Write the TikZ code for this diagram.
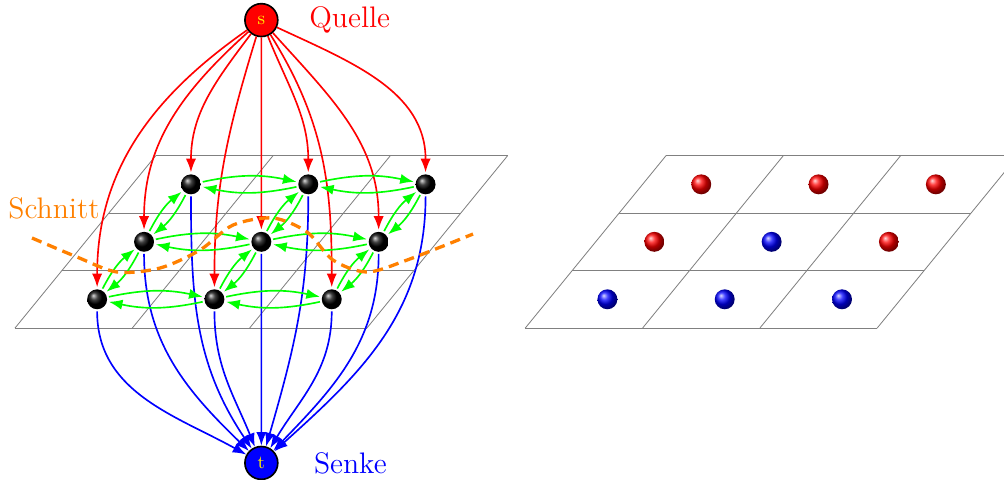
\documentclass[tikz,border=0pt]{standalone}
\usepackage{tikz}
\usetikzlibrary{arrows.meta, positioning, calc, shadings}

\begin{document}
\begin{tikzpicture}[
  pixel/.style={circle, inner sep=0pt, minimum size=0.34cm, outer sep=1pt, shading=ball, ball color=#1},
  pixel/.default=black,
  term/.style={circle, draw=black, thick, fill=#1, text=yellow, minimum size=0.56cm, inner sep=0pt, font=\small},
  srcarrow/.style={red, thick, -{Latex}},
  sinkarrow/.style={blue, thick, -{Latex}},
  nbarrow/.style={green, thick, -{Latex}, bend left=12},
  plane/.style={gray, thin},
  schnitt/.style={orange, line width=1.6pt, dash pattern=on 5pt off 3pt}
]
  \useasboundingbox (-0.256,-2.575) rectangle (16.862,5.593);

  % left plane with the graph
  \begin{scope}[x={(2cm,0cm)}, y={(0.8cm,0.98cm)}]
    \foreach \k in {0,...,3} {
      \draw[plane] (0,\k) -- (3,\k);
      \draw[plane] (\k,0) -- (\k,3);
    }
    \foreach \i in {0,1,2}
      \foreach \j in {0,1,2}
        \node[pixel] (p\i\j) at (\i+0.5,\j+0.5) {};
  \end{scope}

  \node[term=red] (s) at (4.2,5.25) {s};
  \node[term=blue] (t) at (4.2,-2.30) {t};
  \node[red, font=\Large, right=0.4cm of s] (quelle) {Quelle};
  \node[blue, font=\Large, right=0.48cm of t] (senke) {Senke};

  % source and sink edges
  \foreach \n/\a in {00/215, 01/222, 02/233, 10/253, 11/270, 12/292, 20/302, 21/312, 22/335}
    \draw[srcarrow] (s) to[out=\a, in=90] (p\n);
  \foreach \n/\a in {00/151, 01/136, 02/124, 10/112, 11/90, 12/74, 20/59, 21/46, 22/42}
    \draw[sinkarrow] (p\n) to[out=-90, in=\a] (t);

  % neighbour edges
  \foreach \i/\k in {0/1, 1/2}
    \foreach \j in {0,1,2} {
      \draw[nbarrow] (p\i\j) to (p\k\j);
      \draw[nbarrow] (p\k\j) to (p\i\j);
      \draw[nbarrow] (p\j\i) to (p\j\k);
      \draw[nbarrow] (p\j\k) to (p\j\i);
    }

  % the cut
  \draw[schnitt] plot[smooth] coordinates {(0.290,1.535) (1.057,1.211) (1.739,0.955) (2.472,1.023)
    (3.154,1.330) (3.717,1.756) (4.399,1.876) (4.979,1.637) (5.422,1.159) (6.002,0.955)
    (6.684,1.159) (7.809,1.603)};
  \node[orange, font=\Large] (schnitt) at (0.665,2.04) {Schnitt};

  % right plane with the labels
  \begin{scope}[xshift=8.7cm, x={(2cm,0cm)}, y={(0.8cm,0.98cm)}]
    \foreach \k in {0,...,3} {
      \draw[plane] (0,\k) -- (3,\k);
      \draw[plane] (\k,0) -- (\k,3);
    }
    \foreach \i/\j/\c in {0/0/blue, 1/0/blue, 2/0/blue, 0/1/red, 1/1/blue, 2/1/red, 0/2/red, 1/2/red, 2/2/red}
      \node[pixel=\c] (q\i\j) at (\i+0.5,\j+0.5) {};
  \end{scope}
\end{tikzpicture}
\end{document}
